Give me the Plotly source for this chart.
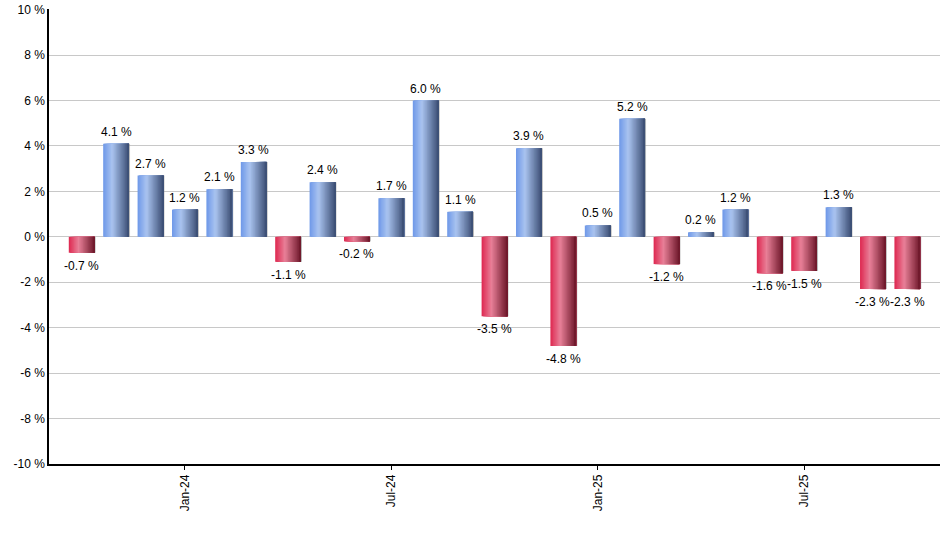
"""
Monthly returns bar chart with shaded (gradient) bars.
"""
import plotly.graph_objects as go

months = [
    "Oct-23", "Nov-23", "Dec-23", "Jan-24", "Feb-24", "Mar-24", "Apr-24",
    "May-24", "Jun-24", "Jul-24", "Aug-24", "Sep-24", "Oct-24", "Nov-24",
    "Dec-24", "Jan-25", "Feb-25", "Mar-25", "Apr-25", "May-25", "Jun-25",
    "Jul-25", "Aug-25", "Sep-25", "Oct-25",
]
returns = [
    -0.7, 4.1, 2.7, 1.2, 2.1, 3.3, -1.1, 2.4, -0.2, 1.7, 6.0, 1.1, -3.5,
    3.9, -4.8, 0.5, 5.2, -1.2, 0.2, 1.2, -1.6, -1.5, 1.3, -2.3, -2.3,
]
tick_months = ["Jan-24", "Jul-24", "Jan-25", "Jul-25"]
y_ticks = [-10, -8, -6, -4, -2, 0, 2, 4, 6, 8, 10]

# gradient stops (left -> highlight -> right)
BLUE = [(0.0, (110, 152, 232)), (0.35, (170, 196, 240)), (1.0, (58, 76, 114))]
RED = [(0.0, (222, 40, 80)), (0.38, (232, 128, 152)), (1.0, (108, 22, 40))]

BAR_W = 0.75
N_STRIPS = 20


def _lerp(stops, t):
    for (t0, c0), (t1, c1) in zip(stops, stops[1:]):
        if t <= t1:
            f = (t - t0) / (t1 - t0)
            return "rgb({},{},{})".format(*[round(a + (b - a) * f) for a, b in zip(c0, c1)])
    return "rgb({},{},{})".format(*stops[-1][1])


fig = go.Figure()

# sombra
fig.add_trace(go.Bar(
    x=months, y=returns,
    width=BAR_W, offset=-BAR_W / 2 + 0.03,
    marker=dict(color="rgba(140,140,140,0.6)", line_width=0),
    hoverinfo="skip", showlegend=False,
))

# franjas para simular el degradado: cada una tapa el resto de la barra
strip = BAR_W / N_STRIPS
for i in range(N_STRIPS):
    t = (i + 0.5) / N_STRIPS
    colors = [_lerp(BLUE, t) if v >= 0 else _lerp(RED, t) for v in returns]
    fig.add_trace(go.Bar(
        x=months, y=returns,
        width=BAR_W - i * strip, offset=-BAR_W / 2 + i * strip,
        marker=dict(color=colors, line_width=0),
        hovertemplate="%{x}: %{y:.1f} %<extra></extra>",
        showlegend=False,
    ))

# etiquetas
for m, v in zip(months, returns):
    fig.add_annotation(
        x=m, y=v,
        text=f"{v:.1f} %",
        showarrow=False,
        yanchor="bottom" if v >= 0 else "top",
        yshift=3 if v >= 0 else -4,
        font=dict(size=12, color="#000000"),
    )

fig.update_layout(
    width=940, height=550,
    margin=dict(l=49, r=0, t=9, b=86),
    barmode="overlay",
    template="none",
    plot_bgcolor="white",
    paper_bgcolor="white",
    font=dict(family="Liberation Sans, Arial, sans-serif", size=12, color="#000000"),
    showlegend=False,
)
fig.update_xaxes(
    type="category",
    categoryorder="array", categoryarray=months,
    range=[-0.95, len(months) - 0.05],
    tickvals=tick_months, ticktext=tick_months,
    tickangle=-90,
    ticks="outside", ticklen=4, tickcolor="#000000",
    showgrid=False, showline=True, linecolor="#000000", linewidth=1.5,
    zeroline=False, automargin=False,
)
fig.update_yaxes(
    range=[-10, 10.03],  # un poco más para que se vea la rejilla del 10 %
    tickvals=y_ticks, ticktext=[f"{v} %" for v in y_ticks],
    showgrid=True, gridcolor="#c8c8c8", gridwidth=1,
    showline=True, linecolor="#000000", linewidth=1.5,
    zeroline=False, ticks="", automargin=False,
)

# quitar el margen por defecto del body para que el gráfico empiece en 0,0
fig.write_html(
    "out.html",
    config={"displayModeBar": False},
    post_script="document.body.style.margin='0';",
)
